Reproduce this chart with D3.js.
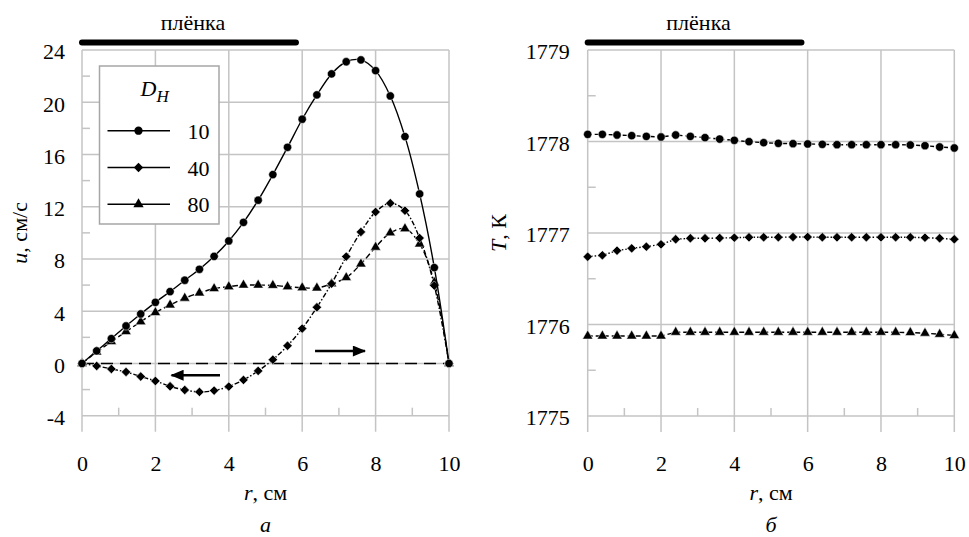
<!DOCTYPE html>
<head>
    <meta charset="utf-8">
    <script src="https://cdn.jsdelivr.net/npm/d3@7"></script>
    <style type="text/css">
        body {
            margin: 0;
            background: #fff;
        }
        svg, svg text {
            font-family: "Liberation Serif", "DejaVu Serif", "Liberation Sans", sans-serif;
            fill: #000;
        }
        .grid line {
            stroke: #c4c4c4;
            stroke-width: 1.5px;
        }
        .legend-box {
            fill: #fff;
            stroke: #a6a6a6;
            stroke-width: 1.5px;
        }
    </style>
</head>
<body>
    <div id="chart"></div>
</body>
</html>

<script type="text/javascript">
	var width = 969, height = 537;
	var font = '"Liberation Serif", "DejaVu Serif", "Liberation Sans", sans-serif';
	var fs = 22;

	// radius grid, cm
	var r = [0, 0.4, 0.8, 1.2, 1.6, 2.0, 2.4, 2.8, 3.2, 3.6, 4.0, 4.4, 4.8, 5.2, 5.6, 6.0, 6.4, 6.8, 7.2, 7.6, 8.0, 8.4, 8.8, 9.2, 9.6, 10];

	// panel a: velocity u, cm/s
	var u10 = [0, 0.96, 1.9, 2.87, 3.79, 4.68, 5.5, 6.37, 7.21, 8.2, 9.38, 10.8, 12.5, 14.46, 16.55, 18.7, 20.56, 22.17, 23.1, 23.24, 22.42, 20.48, 17.37, 12.98, 7.34, 0];
	var u40 = [0, -0.19, -0.42, -0.65, -1.0, -1.34, -1.75, -2.03, -2.18, -2.08, -1.77, -1.26, -0.57, 0.29, 1.36, 2.67, 4.3, 6.11, 8.18, 10.07, 11.6, 12.27, 11.7, 9.6, 5.96, 0];
	var u80 = [0, 0.88, 1.67, 2.44, 3.2, 3.9, 4.48, 5.0, 5.4, 5.73, 5.88, 6.0, 6.0, 5.98, 5.88, 5.8, 5.78, 6.1, 6.57, 7.62, 8.9, 10.0, 10.32, 9.15, 6.2, 0];

	// panel b: temperature T, K
	var T10 = [1778.078, 1778.078, 1778.071, 1778.064, 1778.056, 1778.049, 1778.071, 1778.056, 1778.042, 1778.027, 1778.013, 1777.998, 1777.987, 1777.980, 1777.976, 1777.973, 1777.969, 1777.965, 1777.965, 1777.965, 1777.965, 1777.965, 1777.962, 1777.954, 1777.940, 1777.929];
	var T40 = [1776.741, 1776.756, 1776.807, 1776.832, 1776.851, 1776.876, 1776.931, 1776.942, 1776.942, 1776.945, 1776.949, 1776.953, 1776.953, 1776.953, 1776.956, 1776.956, 1776.953, 1776.953, 1776.953, 1776.953, 1776.953, 1776.953, 1776.953, 1776.949, 1776.942, 1776.931];
	var T80 = [1775.874, 1775.874, 1775.874, 1775.874, 1775.874, 1775.874, 1775.915, 1775.915, 1775.915, 1775.915, 1775.915, 1775.915, 1775.915, 1775.915, 1775.915, 1775.915, 1775.915, 1775.915, 1775.915, 1775.915, 1775.915, 1775.915, 1775.912, 1775.905, 1775.893, 1775.880];

	var seriesNames = ["10", "40", "80"];
	var xTicks = [0, 2, 4, 6, 8, 10];
	var xMinor = [1, 3, 5, 7, 9];
	var uTicks = [-4, 0, 4, 8, 12, 16, 20, 24];
	var uMinor = [-2, 2, 6, 10, 14, 18, 22];
	var TTicks = [1775, 1776, 1777, 1778, 1779];
	var TMinor = [1775.5, 1776.5, 1777.5, 1778.5];
	var filmEnd = 5.83; // cm, extent of the film

	var svg = d3.select('#chart').append("svg")
		.attr("width", width)
		.attr("height", height)
		.attr("font-family", font);

	var defs = svg.append("defs");
	defs.append("marker")
		.attr("id", "arrow")
		.attr("viewBox", "0 0 12 10")
		.attr("refX", 11)
		.attr("refY", 5)
		.attr("markerUnits", "userSpaceOnUse")
		.attr("markerWidth", 15)
		.attr("markerHeight", 11)
		.attr("orient", "auto")
	  .append("path")
		.attr("d", "M0,0 L12,5 L0,10 Z")
		.attr("fill", "#000");

	var symbols = [
		d3.symbol().type(d3.symbolCircle).size(54),
		d3.symbol().type(d3.symbolSquare).size(44),
		d3.symbol().type(d3.symbolTriangle).size(46)
	];
	var symRotate = [0, 45, 0];
	var plain = function(d) { return String(d); };

	function panel(opt) {
		var x = d3.scaleLinear().domain([0, 10]).range([opt.left, opt.right]);
		var y = d3.scaleLinear().domain(opt.yDomain).range([opt.bottom, opt.top]);
		var g = svg.append("g");

		// grid and frame
		var grid = g.append("g").attr("class", "grid");
		grid.selectAll(".vx").data(xTicks).enter().append("line")
			.attr("x1", function(d) { return x(d); })
			.attr("x2", function(d) { return x(d); })
			.attr("y1", opt.top)
			.attr("y2", opt.bottom + 16);
		grid.selectAll(".hy").data(opt.yTicks).enter().append("line")
			.attr("x1", opt.left)
			.attr("x2", opt.right)
			.attr("y1", function(d) { return y(d); })
			.attr("y2", function(d) { return y(d); });
		grid.selectAll(".mx").data(xMinor).enter().append("line")
			.attr("x1", function(d) { return x(d); })
			.attr("x2", function(d) { return x(d); })
			.attr("y1", opt.bottom)
			.attr("y2", opt.bottom - 8);
		grid.selectAll(".my").data(opt.yMinor).enter().append("line")
			.attr("x1", opt.left)
			.attr("x2", opt.left + 8)
			.attr("y1", function(d) { return y(d); })
			.attr("y2", function(d) { return y(d); });

		// tick labels
		var ax = g.append("g")
			.attr("transform", "translate(0," + opt.bottom + ")")
			.call(d3.axisBottom(x).tickValues(xTicks).tickSize(0).tickFormat(plain));
		ax.select(".domain").remove();
		ax.attr("font-family", font).attr("font-size", fs);
		ax.selectAll("text").attr("y", 55).attr("dy", null);

		var ay = g.append("g")
			.attr("transform", "translate(" + opt.left + ",0)")
			.call(d3.axisLeft(y).tickValues(opt.yTicks).tickSize(0).tickPadding(opt.yPad).tickFormat(plain));
		ay.select(".domain").remove();
		ay.attr("font-family", font).attr("font-size", fs);
		ay.selectAll("text").attr("dy", "0.4em");

		// film bar
		g.append("line")
			.attr("x1", x(0))
			.attr("x2", x(filmEnd))
			.attr("y1", 42.5)
			.attr("y2", 42.5)
			.attr("stroke", "#000")
			.attr("stroke-width", 6)
			.attr("stroke-linecap", "round");
		g.append("text")
			.attr("x", x(filmEnd / 2) + 4)
			.attr("y", 30)
			.attr("text-anchor", "middle")
			.style("font-size", fs + "px")
			.text("плёнка");

		// axis titles
		g.append("text")
			.attr("x", (opt.left + opt.right) / 2)
			.attr("y", 500)
			.attr("text-anchor", "middle")
			.style("font-size", fs + "px")
			.html('<tspan font-style="italic">r</tspan>, см');
		g.append("text")
			.attr("x", (opt.left + opt.right) / 2)
			.attr("y", 532)
			.attr("text-anchor", "middle")
			.style("font-size", fs + "px")
			.style("font-style", "italic")
			.text(opt.letter);
		g.append("text")
			.attr("transform", "translate(" + opt.titleX + "," + ((opt.top + opt.bottom) / 2) + ") rotate(-90)")
			.attr("text-anchor", "middle")
			.style("font-size", fs + "px")
			.html(opt.yTitle);

		return {g: g, x: x, y: y};
	}

	function drawSeries(p, values, i, dash, curve) {
		var pts = r.map(function(d, k) { return [d, values[k]]; });
		var line = d3.line()
			.x(function(d) { return p.x(d[0]); })
			.y(function(d) { return p.y(d[1]); })
			.curve(curve);
		p.g.append("path")
			.datum(pts)
			.attr("d", line)
			.attr("fill", "none")
			.attr("stroke", "#000")
			.attr("stroke-width", 1.4)
			.attr("stroke-dasharray", dash);
		p.g.selectAll(".s" + i).data(pts).enter().append("path")
			.attr("d", symbols[i])
			.attr("transform", function(d) {
				return "translate(" + p.x(d[0]) + "," + p.y(d[1]) + ") rotate(" + symRotate[i] + ")";
			})
			.attr("fill", "#000")
			.attr("stroke", "#fff")
			.attr("stroke-width", 0.5);
	}

	// ---- panel a ----
	var pa = panel({
		left: 82, right: 449, top: 50, bottom: 415.7,
		yDomain: [-4, 24], yTicks: uTicks, yMinor: uMinor, yPad: 17,
		titleX: 27, letter: "а",
		yTitle: '<tspan font-style="italic">u</tspan>, см/с'
	});

	// zero line
	pa.g.append("line")
		.attr("x1", pa.x(0)).attr("x2", pa.x(10))
		.attr("y1", pa.y(0)).attr("y2", pa.y(0))
		.attr("stroke", "#000")
		.attr("stroke-width", 1.5)
		.attr("stroke-dasharray", "12,7");

	drawSeries(pa, u80, 2, "6,3", d3.curveCatmullRom);
	drawSeries(pa, u40, 1, "5,2,1.5,2", d3.curveCatmullRom);
	drawSeries(pa, u10, 0, null, d3.curveCatmullRom);

	// flow direction arrows
	pa.g.append("line")
		.attr("x1", pa.x(3.76)).attr("x2", pa.x(2.44))
		.attr("y1", pa.y(-0.9)).attr("y2", pa.y(-0.9))
		.attr("stroke", "#000").attr("stroke-width", 2.6)
		.attr("marker-end", "url(#arrow)");
	pa.g.append("line")
		.attr("x1", pa.x(6.35)).attr("x2", pa.x(7.71))
		.attr("y1", pa.y(0.95)).attr("y2", pa.y(0.95))
		.attr("stroke", "#000").attr("stroke-width", 2.6)
		.attr("marker-end", "url(#arrow)");

	// legend
	var legend = svg.append("g").attr("transform", "translate(99.5,66)");
	legend.append("rect")
		.attr("class", "legend-box")
		.attr("width", 119.5)
		.attr("height", 158);
	legend.append("text")
		.attr("x", 41)
		.attr("y", 30)
		.style("font-size", fs + "px")
		.style("font-style", "italic")
		.html('D<tspan dy="6" font-size="17">H</tspan>');
	var items = legend.selectAll(".item").data(seriesNames).enter().append("g")
		.attr("transform", function(d, i) { return "translate(0," + (64.7 + i * 36.8) + ")"; });
	items.append("line")
		.attr("x1", 8).attr("x2", 70.5)
		.attr("stroke", "#000").attr("stroke-width", 1.4);
	items.append("path")
		.attr("d", function(d, i) { return symbols[i](); })
		.attr("transform", function(d, i) { return "translate(39,0) rotate(" + symRotate[i] + ")"; })
		.attr("fill", "#000");
	items.append("text")
		.attr("x", 110)
		.attr("y", 8)
		.attr("text-anchor", "end")
		.style("font-size", fs + "px")
		.text(function(d) { return d; });

	// ---- panel b ----
	var pb = panel({
		left: 587.7, right: 954.3, top: 50, bottom: 416,
		yDomain: [1775, 1779], yTicks: TTicks, yMinor: TMinor, yPad: 18,
		titleX: 506, letter: "б",
		yTitle: '<tspan font-style="italic">T</tspan>, К'
	});

	drawSeries(pb, T80, 2, "5,3", d3.curveLinear);
	drawSeries(pb, T40, 1, "1.5,2", d3.curveLinear);
	drawSeries(pb, T10, 0, "4,3", d3.curveLinear);
</script>
